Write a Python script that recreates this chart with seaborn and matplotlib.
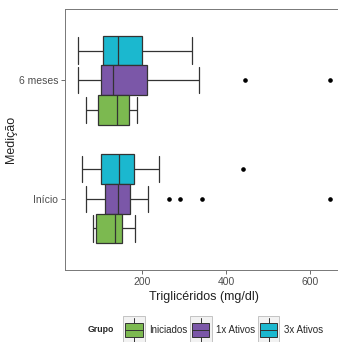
import pandas as pd
import numpy as np
import matplotlib
matplotlib.use('Agg')
import matplotlib.pyplot as plt
import seaborn as sns
from matplotlib.legend_handler import HandlerBase
from matplotlib.patches import Rectangle
from matplotlib.lines import Line2D
from matplotlib.offsetbox import HPacker

# Triglicéridos (mg/dl) per group
medicoes = ['6 meses', 'Início']
grupos = ['Iniciados', '1x Ativos', '3x Ativos']
cores = {'Iniciados': '#7cb950', '1x Ativos': '#7b57a8', '3x Ativos': '#1bb8cf'}

iniciados_6m = [64, 93, 140, 167, 186]
ativos1_6m = [45, 70, 88, 101, 112, 121, 130, 160, 185, 212, 335, 444, 649]
ativos3_6m = [45, 106, 142, 198, 319]
iniciados_inicio = [82, 90, 134, 151, 182]
ativos1_inicio = [64, 80, 92, 100, 106, 111, 118, 125, 131, 137, 142,
                  148, 154, 160, 165, 170, 213, 263, 289, 343, 649]
ativos3_inicio = [56, 80, 100, 122, 143, 160, 179, 240, 439]

series = [
    ('6 meses', 'Iniciados', iniciados_6m),
    ('6 meses', '1x Ativos', ativos1_6m),
    ('6 meses', '3x Ativos', ativos3_6m),
    ('Início', 'Iniciados', iniciados_inicio),
    ('Início', '1x Ativos', ativos1_inicio),
    ('Início', '3x Ativos', ativos3_inicio),
]
rows = []
for med, grp, vals in series:
    for v in vals:
        rows.append({'Medição': med, 'Grupo': grp, 'Trig': v})
df = pd.DataFrame(rows)

sns.set_style('white')
plt.rcParams['font.family'] = ['Liberation Sans', 'DejaVu Sans']

fig = plt.figure(figsize=(3.38, 3.42), dpi=100)
ax = fig.add_axes([65 / 338, 1 - 270 / 342, 278 / 338, 261 / 342])

edge = '#333333'
sns.boxplot(data=df, x='Trig', y='Medição', hue='Grupo', order=medicoes,
            hue_order=grupos[::-1], palette=cores, saturation=1, orient='h',
            width=0.75, gap=0, linewidth=0.9, linecolor=edge, capwidths=0.22,
            flierprops=dict(marker='o', markerfacecolor='black',
                            markeredgecolor='black', markersize=2.3),
            legend=False, ax=ax)

ax.set_xlim(15, 679)
ax.set_ylim(1.6, -0.6)
ax.set_xticks([200, 400, 600])
ax.tick_params(axis='both', length=3, width=0.6, color='#555555',
               labelsize=7.5, labelcolor='#4d4d4d', pad=2, bottom=True, left=True)
for s in ax.spines.values():
    s.set_color('#777777')
    s.set_linewidth(0.7)
ax.set_xlabel('Triglicéridos (mg/dl)', fontsize=9, color='#222222', labelpad=3)
ax.set_ylabel('Medição', fontsize=9, color='#222222', labelpad=1)


class BoxKey(HandlerBase):
    def create_artists(self, legend, orig_handle, xdescent, ydescent,
                       width, height, fontsize, trans):
        fc = orig_handle.get_facecolor()
        x0, y0 = -xdescent, -ydescent
        bg = Rectangle((x0, y0), width, height, facecolor='#f2f2f2',
                       edgecolor='#bbbbbb', lw=0.6, transform=trans)
        cx = x0 + width / 2
        wl = Line2D([cx, cx], [y0 + 1.5, y0 + height - 1.5],
                    color=edge, lw=0.7, transform=trans)
        box = Rectangle((x0 + 1.5, y0 + height * 0.25), width - 3, height * 0.5,
                        facecolor=fc, edgecolor=edge, lw=0.7, transform=trans)
        ml = Line2D([x0 + 1.5, x0 + width - 1.5], [y0 + height / 2] * 2,
                    color=edge, lw=0.7, transform=trans)
        return [bg, wl, box, ml]


handles = [Rectangle((0, 0), 1, 1, facecolor=cores[g]) for g in grupos]
leg = fig.legend(handles, grupos, handler_map={Rectangle: BoxKey()},
                 loc='center', bbox_to_anchor=(205 / 338, 1 - 330 / 342),
                 ncol=3, frameon=False, fontsize=7, handlelength=2.2,
                 handleheight=4.2, handletextpad=0.45, columnspacing=0.3,
                 borderpad=0, title='Grupo',
                 title_fontproperties={'weight': 'bold', 'size': 6.3})
# put the title on the left of the keys, as in the original
leg._legend_box._children = [HPacker(pad=0, sep=7,
                                     children=[leg._legend_title_box,
                                               leg._legend_handle_box],
                                     align='center')]

fig.savefig('out.png', dpi=100)
